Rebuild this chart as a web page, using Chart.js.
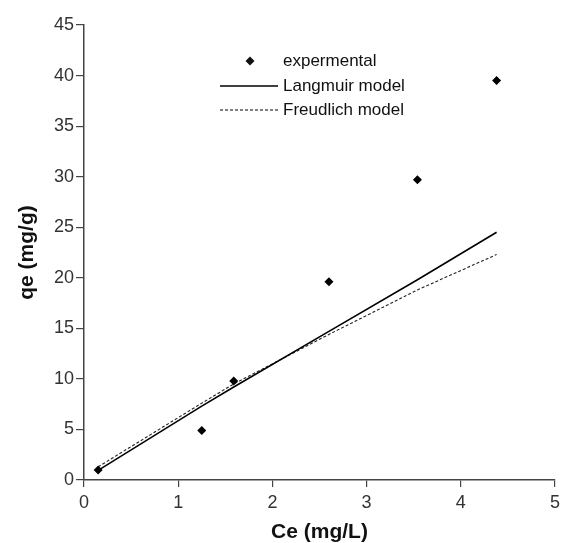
<!DOCTYPE html>
<html>
<head>
<meta charset="utf-8">
<script src="https://cdn.jsdelivr.net/npm/chart.js@4"></script>
<style>
  html, body { margin: 0; padding: 0; background: #fff; }
  #wrap { width: 566px; height: 543px; }
</style>
</head>
<body>
<div id="wrap"><canvas id="isoChart" width="566" height="543"></canvas></div>
<script>
// Equilibrium concentration Ce (mg/L)
const ceValues = [0.15, 1.25, 1.59, 2.6, 3.54, 4.38];
// Measured uptake qe (mg/g)
const qeExperimental = [1.0, 4.9, 9.8, 19.6, 29.7, 39.5];
// Model fits at the same Ce values
const qeLangmuir = [0.95, 7.3, 9.2, 14.7, 19.8, 24.5];
const qeFreundlich = [1.3, 7.6, 9.5, 14.4, 18.8, 22.3];

const seriesLabels = ["expermental", "Langmuir model", "Freudlich model"];
const xTicks = [0, 1, 2, 3, 4, 5];
const yTicks = [0, 5, 10, 15, 20, 25, 30, 35, 40, 45];

const FONT = "'Liberation Sans', Arial, sans-serif";
const toPoints = (xs, ys) => xs.map((x, i) => ({ x: x, y: ys[i] }));

// Legend drawn inside the plot, like the original figure
const insideLegend = {
  id: "insideLegend",
  afterDraw(chart) {
    const ctx = chart.ctx;
    const area = chart.chartArea;
    const textX = area.left + 199;
    const lineX0 = area.left + 136;
    const lineX1 = area.left + 194;
    const rowY = [area.top + 36, area.top + 61, area.top + 85];
    const ds = chart.data.datasets;

    ctx.save();
    ctx.font = "17px " + FONT;
    ctx.fillStyle = "#111";
    ctx.textBaseline = "middle";
    ctx.textAlign = "left";

    // marker row
    const mx = area.left + 166, my = rowY[0];
    ctx.beginPath();
    ctx.moveTo(mx, my - 4.5);
    ctx.lineTo(mx + 4.5, my);
    ctx.lineTo(mx, my + 4.5);
    ctx.lineTo(mx - 4.5, my);
    ctx.closePath();
    ctx.fill();
    ctx.fillText(ds[0].label, textX, my);

    // Langmuir row
    ctx.strokeStyle = "#000";
    ctx.lineWidth = 1.5;
    ctx.setLineDash([]);
    ctx.beginPath();
    ctx.moveTo(lineX0, rowY[1]);
    ctx.lineTo(lineX1, rowY[1]);
    ctx.stroke();
    ctx.fillText(ds[1].label, textX, rowY[1]);

    // Freundlich row
    ctx.lineWidth = 1.1;
    ctx.setLineDash([3, 2]);
    ctx.beginPath();
    ctx.moveTo(lineX0, rowY[2]);
    ctx.lineTo(lineX1, rowY[2]);
    ctx.stroke();
    ctx.setLineDash([]);
    ctx.fillText(ds[2].label, textX, rowY[2]);
    ctx.restore();
  }
};

const ctx = document.getElementById("isoChart").getContext("2d");
const isoChart = new Chart(ctx, {
  type: "scatter",
  data: {
    datasets: [
      {
        label: seriesLabels[0],
        data: toPoints(ceValues, qeExperimental),
        pointStyle: "rectRot",
        pointRadius: 4.5,
        backgroundColor: "#000",
        borderColor: "#000",
        borderWidth: 0,
        showLine: false
      },
      {
        label: seriesLabels[1],
        data: toPoints(ceValues, qeLangmuir),
        showLine: true,
        pointRadius: 0,
        borderColor: "#000",
        borderWidth: 1.6,
        tension: 0
      },
      {
        label: seriesLabels[2],
        data: toPoints(ceValues, qeFreundlich),
        showLine: true,
        pointRadius: 0,
        borderColor: "#222",
        borderWidth: 1.1,
        borderDash: [3, 2],
        tension: 0
      }
    ]
  },
  options: {
    responsive: false,
    animation: false,
    layout: { padding: { left: 0, right: 11, top: 25, bottom: 0 } },
    plugins: {
      legend: { display: false },
      tooltip: { enabled: false }
    },
    scales: {
      x: {
        type: "linear",
        min: 0,
        max: 5,
        afterBuildTicks: (s) => { s.ticks = xTicks.map(v => ({ value: v })); },
        afterFit: (s) => { s.height = 63; },
        grid: { drawOnChartArea: false, drawTicks: true, tickLength: 7, color: "#444", lineWidth: 1.2 },
        border: { color: "#444", width: 1.5 },
        ticks: {
          color: "#333",
          padding: 5,
          font: { family: FONT, size: 18 }
        },
        title: {
          display: true,
          text: "Ce (mg/L)",
          color: "#111",
          padding: { top: 0, bottom: 0 },
          font: { family: FONT, size: 21, weight: "bold", lineHeight: 1.0 }
        }
      },
      y: {
        type: "linear",
        min: 0,
        max: 45,
        afterBuildTicks: (s) => { s.ticks = yTicks.map(v => ({ value: v })); },
        afterFit: (s) => { s.width = 84; },
        grid: { drawOnChartArea: false, drawTicks: true, tickLength: 8, color: "#444", lineWidth: 1.2 },
        border: { color: "#444", width: 1.5 },
        ticks: {
          color: "#333",
          padding: 2,
          font: { family: FONT, size: 18 }
        },
        title: {
          display: true,
          text: "qe (mg/g)",
          color: "#111",
          padding: { top: 15, bottom: 0 },
          font: { family: FONT, size: 21, weight: "bold" }
        }
      }
    }
  },
  plugins: [insideLegend]
});
</script>
</body>
</html>
